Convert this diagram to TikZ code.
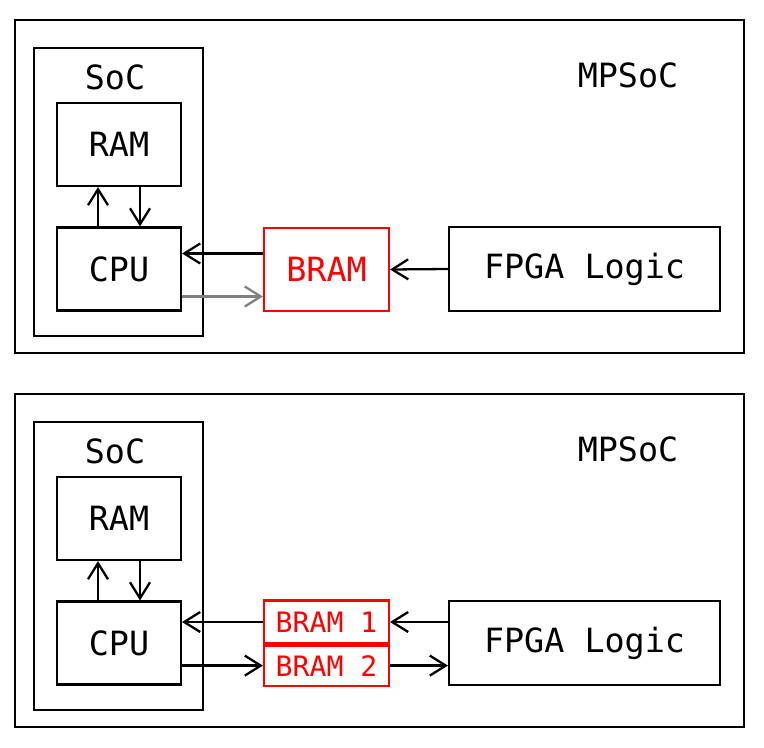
\documentclass[tikz,border=0pt]{standalone}
\usepackage{fontspec}
\setmonofont{DejaVu Sans Mono}
\usetikzlibrary{arrows.meta,positioning}

\tikzset{
	block/.style={draw, line width=1.2pt, inner sep=0pt, font=\ttfamily\fontsize{19}{23}\selectfont},
	pfeil/.style={-{Straight Barb[length=0.32cm,width=0.4cm]}, line width=1.3pt},
	rahmen/.style={line width=1.2pt},
	beschriftung/.style={font=\ttfamily\fontsize{19}{23}\selectfont}
}

\begin{document}
\begin{tikzpicture}
	\useasboundingbox (0,0) rectangle (15.28,14.94);
	
	
	% Oberer Aufbau: MPSoC mit einem BRAM
	\draw[rahmen] (0.30,7.88) rectangle (14.88,14.54);
	\draw[rahmen] (0.68,8.22) rectangle (4.06,13.98);
	\node[beschriftung] (soc1) at (2.30,13.40) {SoC};
	\node[beschriftung] (mpsoc1) at (12.56,13.44) {MPSoC};
	
	\node[block, minimum width=2.48cm, minimum height=1.66cm] (ram1) at (2.38,12.05) {RAM};
	\node[block, minimum width=2.48cm, minimum height=1.66cm] (cpu1) at (2.38,9.56) {CPU};
	\node[block, draw=red, text=red, minimum width=2.50cm, minimum height=1.66cm] (bram) at (6.53,9.55) {BRAM};
	\node[block, minimum width=5.42cm, minimum height=1.68cm] (fpga1) at (11.69,9.56) {FPGA Logic};
	
	% Verbindungen oben
	\draw[pfeil] ([xshift=-0.42cm]cpu1.north) -- ([xshift=-0.42cm]ram1.south);
	\draw[pfeil] ([xshift=0.42cm]ram1.south) -- ([xshift=0.42cm]cpu1.north);
	\draw[pfeil] ([yshift=0.32cm]bram.west) -- ([yshift=0.32cm]bram.west -| cpu1.east);
	\draw[pfeil, gray] ([yshift=-0.54cm]bram.west -| cpu1.east) -- ([yshift=-0.54cm]bram.west);
	\draw[pfeil] (fpga1.west) -- (bram.east);
	
	
	% Unterer Aufbau: MPSoC mit zwei BRAMs
	\draw[rahmen] (0.30,0.40) rectangle (14.88,7.06);
	\draw[rahmen] (0.68,0.74) rectangle (4.06,6.50);
	\node[beschriftung] (soc2) at (2.30,5.92) {SoC};
	\node[beschriftung] (mpsoc2) at (12.56,5.96) {MPSoC};
	
	\node[block, minimum width=2.48cm, minimum height=1.66cm] (ram2) at (2.38,4.57) {RAM};
	\node[block, minimum width=2.48cm, minimum height=1.66cm] (cpu2) at (2.38,2.08) {CPU};
	\node[block, draw=red, text=red, font=\ttfamily\fontsize{16}{19}\selectfont, minimum width=2.50cm, minimum height=0.86cm] (bram1) at (6.53,2.50) {BRAM 1};
	\node[block, draw=red, text=red, font=\ttfamily\fontsize{16}{19}\selectfont, minimum width=2.50cm, minimum height=0.80cm, below=0pt of bram1] (bram2) {BRAM 2};
	\node[block, minimum width=5.42cm, minimum height=1.68cm] (fpga2) at (11.69,2.08) {FPGA Logic};
	
	% Verbindungen unten
	\draw[pfeil] ([xshift=-0.42cm]cpu2.north) -- ([xshift=-0.42cm]ram2.south);
	\draw[pfeil] ([xshift=0.42cm]ram2.south) -- ([xshift=0.42cm]cpu2.north);
	\draw[pfeil] (bram1.west) -- (bram1.west -| cpu2.east);
	\draw[pfeil] (bram2.west -| cpu2.east) -- (bram2.west);
	\draw[pfeil] (bram1.east -| fpga2.west) -- (bram1.east);
	\draw[pfeil] (bram2.east) -- (bram2.east -| fpga2.west);
	
	
\end{tikzpicture}
\end{document}
